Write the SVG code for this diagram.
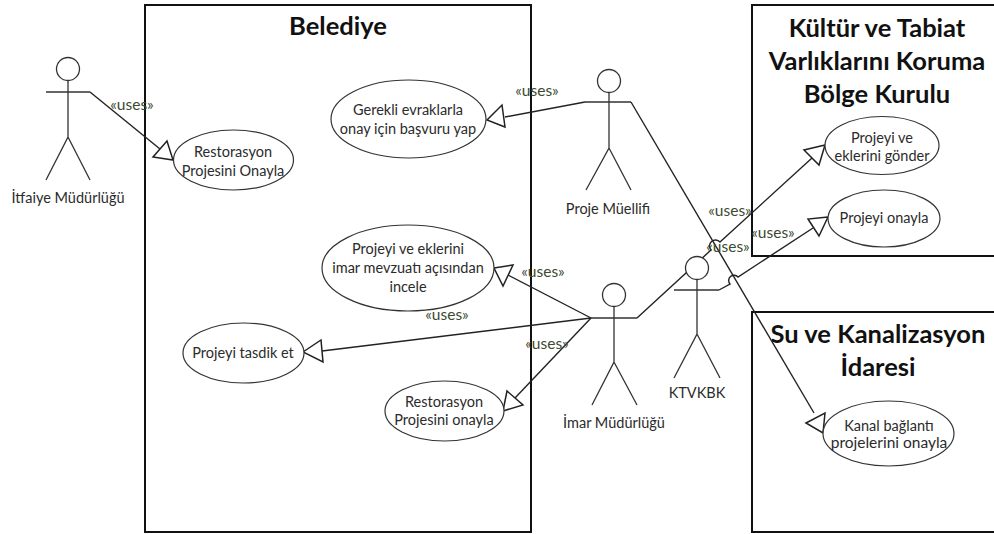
<svg xmlns="http://www.w3.org/2000/svg" width="994" height="534" viewBox="0 0 994 534">
<style>
text{font-family:"Lato","Liberation Sans",sans-serif;fill:#2b2b2b;text-anchor:middle}
.box{fill:none;stroke:#111;stroke-width:2}
.title{font-size:25.5px;font-weight:700;fill:#111}
.lbl{font-size:14.5px}
.sm{font-size:15.5px}
.uses{font-size:15.5px;fill:#3c4a30}
.uc{fill:#fff;stroke:#333;stroke-width:1.2}
.line{fill:none;stroke:#222;stroke-width:1.4}
.head{fill:#fff;stroke:#222;stroke-width:1.5}
.actor{fill:none;stroke:#333;stroke-width:1.3}
.actor circle{fill:#fff}
</style>
<rect width="994" height="534" fill="#fff"/>
<g id="boundaries">
<g id="belediye"><rect class="box" x="145" y="5" width="386" height="527"/><text class="title" x="338" y="35">Belediye</text></g>
<g id="ktvkbk-board"><path class="box" d="M994 5H752V256H994"/><text class="title" x="877" y="37">Kültür ve Tabiat</text><text class="title" x="877" y="70">Varlıklarını Koruma</text><text class="title" x="877" y="103">Bölge Kurulu</text></g>
<g id="su-kanal"><path class="box" d="M994 312H752V532H994"/><text class="title" x="878" y="343">Su ve Kanalizasyon</text><text class="title" x="878" y="376">İdaresi</text></g>
</g>
<g id="connectors">
<path class="line" d="M90 92L160 149"/><polygon class="head" points="167,141 153,157 173,160"/>
<path class="line" d="M585 102L505 117"/><polygon class="head" points="487,120 502,105 505,127"/>
<path class="line" d="M631 102L814 413"/><polygon class="head" points="806,423 825,413 823,433"/>
<path class="line" d="M591 318L508 275"/><polygon class="head" points="494,268 513,265 503,286"/>
<path class="line" d="M591 318L322 351"/><polygon class="head" points="303,352 321,340 323,362"/>
<path class="line" d="M591 318L515 398"/><polygon class="head" points="503,411 507,391 523,405"/>
<path class="line" d="M637 318L711 250A6 6 0 0 1 720 242L812 158"/><polygon class="head" points="825,145 804,150 819,165"/>
<path class="line" d="M719 290L730 284A5 5 0 0 1 738 277L813 228"/><polygon class="head" points="828,217 808,219 819,236"/>
<g id="connector-labels">
<text class="uses" x="132" y="110">«uses»</text>
<text class="uses" x="537" y="96">«uses»</text>
<text class="uses" x="730" y="216">«uses»</text>
<text class="uses" x="773" y="238">«uses»</text>
<text class="uses" x="728" y="252">«uses»</text>
<text class="uses" x="543" y="277">«uses»</text>
<text class="uses" x="447" y="320">«uses»</text>
<text class="uses" x="547" y="349">«uses»</text>
</g>
</g>
<g id="actor-itfaiye"><g class="actor"><circle cx="68" cy="69" r="11.5"/><path d="M46 92H90M68 80.500V137L46 180M68 137L90 180"/></g><text class="lbl" x="68" y="203">İtfaiye Müdürlüğü</text></g>
<g id="actor-proje"><g class="actor"><circle cx="609" cy="81" r="11.5"/><path d="M585 102H631M609 92.500V148L586 190M609 148L631 190"/></g><text class="lbl" x="608" y="214">Proje Müellifi</text></g>
<g id="actor-imar"><g class="actor"><circle cx="614" cy="295" r="11.5"/><path d="M591 318H637M614 306.500V362L592 405M614 362L637 405"/></g><text class="lbl" x="614" y="428">İmar Müdürlüğü</text></g>
<g id="actor-ktvkbk"><g class="actor"><circle cx="697" cy="268" r="11.5"/><path d="M674 290H719M697 279.500V334L674 378M697 334L720 378"/></g><text class="lbl" x="697" y="398">KTVKBK</text></g>
<g id="uc-restorasyon-onayla"><ellipse class="uc" cx="233.500" cy="160" rx="60" ry="30"/><text class="lbl" x="233" y="157">Restorasyon</text><text class="lbl" x="233" y="176">Projesini Onayla</text></g>
<g id="uc-gerekli"><ellipse class="uc" cx="408.500" cy="119" rx="77.500" ry="39"/><text class="lbl" x="408" y="115">Gerekli evraklarla</text><text class="lbl" x="408" y="134">onay için başvuru yap</text></g>
<g id="uc-incele"><ellipse class="uc" cx="408" cy="268" rx="86" ry="43"/><text class="lbl" x="408" y="254">Projeyi ve eklerini</text><text class="lbl" x="408" y="273">imar mevzuatı açısından</text><text class="lbl" x="408" y="292">incele</text></g>
<g id="uc-tasdik"><ellipse class="uc" cx="243.500" cy="353" rx="60.500" ry="30"/><text class="lbl" x="243" y="358">Projeyi tasdik et</text></g>
<g id="uc-restorasyon-imar"><ellipse class="uc" cx="444.500" cy="411" rx="59.500" ry="30"/><text class="lbl" x="444" y="407">Restorasyon</text><text class="lbl" x="444" y="425">Projesini onayla</text></g>
<g id="uc-gonder"><ellipse class="uc" cx="882" cy="145.500" rx="57" ry="29"/><text class="lbl" x="882" y="143">Projeyi ve</text><text class="lbl" x="882" y="161">eklerini gönder</text></g>
<g id="uc-onayla"><ellipse class="uc" cx="884" cy="218.500" rx="56" ry="28.500"/><text class="lbl" x="884" y="223">Projeyi onayla</text></g>
<g id="uc-kanal"><ellipse class="uc" cx="888.500" cy="433.500" rx="65.500" ry="32.500"/><text class="lbl" x="889" y="431">Kanal bağlantı</text><text class="sm" x="889" y="448">projelerini onayla</text></g>
</svg>
